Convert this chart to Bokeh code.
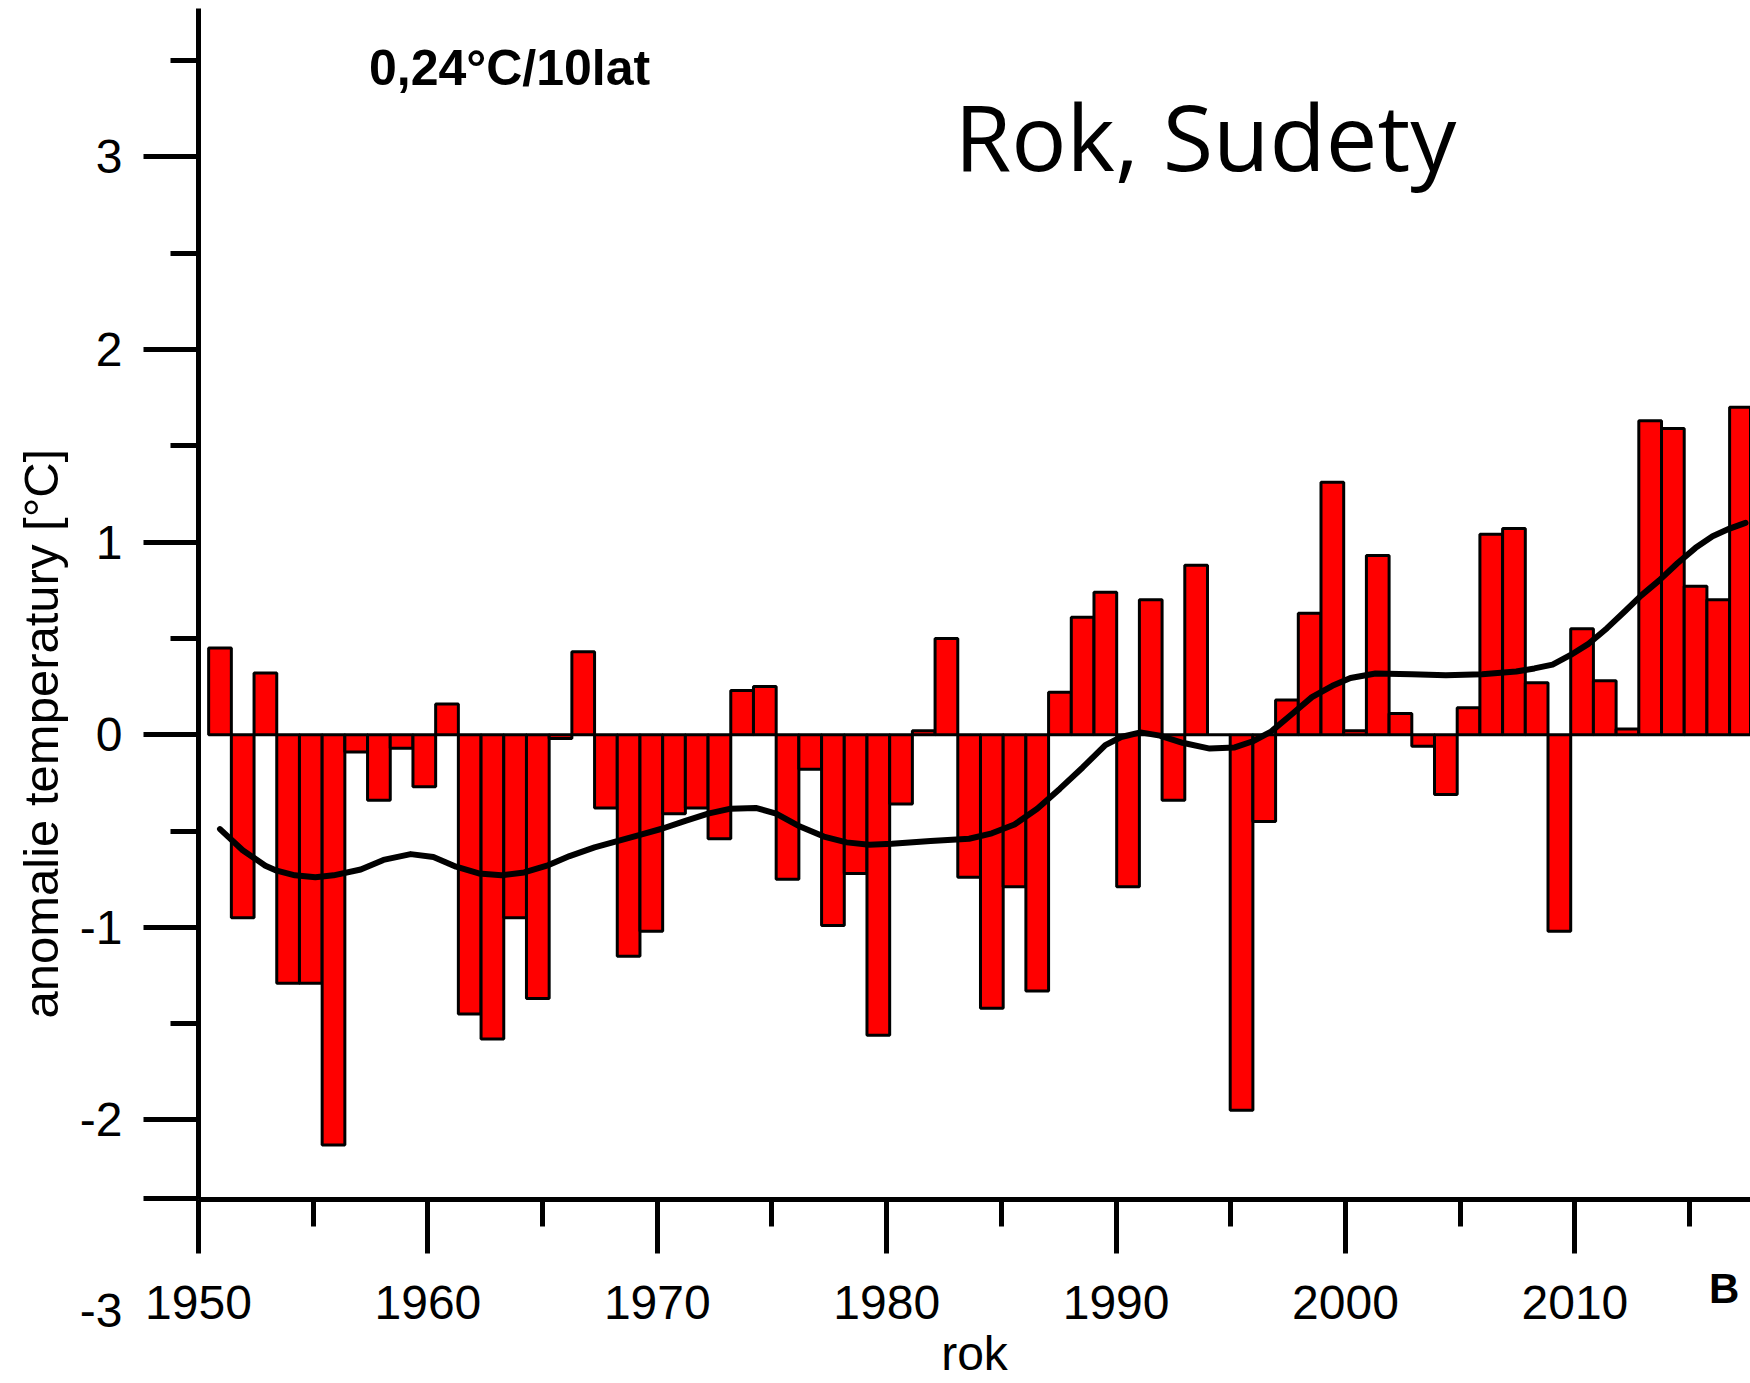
import json
from bokeh.plotting import figure
from bokeh.models import (Range1d, FixedTicker, CustomJSTickFormatter, Label, Title,
                          LinearAxis)
from bokeh.embed import file_html
from bokeh.resources import INLINE

# ---------------- data ----------------
years = list(range(1951, 2019))
anomaly = [
    0.45, -0.95, 0.32, -1.29, -1.29, -2.13, -0.09, -0.34, -0.07, -0.27,   # 1951-1960
    0.16, -1.45, -1.58, -0.95, -1.37, -0.02, 0.43, -0.38, -1.15, -1.02,   # 1961-1970
    -0.41, -0.38, -0.54, 0.23, 0.25, -0.75, -0.18, -0.99, -0.72, -1.56,   # 1971-1980
    -0.36, 0.02, 0.50, -0.74, -1.42, -0.79, -1.33, 0.22, 0.61, 0.74,      # 1981-1990
    -0.79, 0.70, -0.34, 0.88, 0.00, -1.95, -0.45, 0.18, 0.63, 1.31,       # 1991-2000
    0.02, 0.93, 0.11, -0.06, -0.31, 0.14, 1.04, 1.07, 0.27, -1.02,        # 2001-2010
    0.55, 0.28, 0.03, 1.63, 1.59, 0.77, 0.70, 1.70,                       # 2011-2018
]

smooth_year = [
    1951.0, 1952.0, 1953.0, 1953.5, 1954.3, 1955.2, 1956.0, 1957.2, 1958.2, 1959.4,
    1960.4, 1961.4, 1962.4, 1963.4, 1964.4, 1965.4, 1966.4, 1967.5, 1968.5, 1969.5,
    1970.5, 1971.5, 1972.5, 1973.5, 1974.6, 1975.5, 1976.55, 1977.6, 1978.6, 1979.6,
    1980.6, 1982.3, 1984.0, 1985.0, 1986.0, 1987.0, 1988.0, 1989.0, 1990.0, 1990.7,
    1991.55, 1992.4, 1993.4, 1994.6, 1995.7, 1996.5, 1997.3, 1998.2, 1999.1, 2000.0,
    2000.8, 2001.9, 2003.5, 2005.0, 2006.6, 2008.1, 2008.9, 2009.7, 2010.5, 2011.3,
    2012.1, 2012.9, 2013.6, 2014.4, 2015.2, 2016.0, 2016.75, 2017.5, 2018.2,
]
smooth_value = [
    -0.49, -0.60, -0.68, -0.706, -0.73, -0.74, -0.73, -0.70, -0.65, -0.62,
    -0.635, -0.685, -0.72, -0.73, -0.715, -0.68, -0.63, -0.585, -0.553, -0.52,
    -0.487, -0.447, -0.41, -0.384, -0.38, -0.41, -0.477, -0.529, -0.559, -0.571,
    -0.566, -0.552, -0.54, -0.512, -0.466, -0.384, -0.28, -0.17, -0.054, -0.012,
    0.012, -0.005, -0.042, -0.072, -0.066, -0.034, 0.016, 0.105, 0.195, 0.254,
    0.294, 0.318, 0.314, 0.308, 0.314, 0.328, 0.344, 0.364, 0.414, 0.473,
    0.553, 0.642, 0.722, 0.801, 0.89, 0.97, 1.03, 1.07, 1.10,
]

x_major_ticks = [1950, 1960, 1970, 1980, 1990, 2000, 2010]
x_minor_ticks = [1955, 1965, 1975, 1985, 1995, 2005, 2015]
y_major_ticks = [-2, -1, 0, 1, 2, 3]
y_minor_ticks = [-1.5, -0.5, 0.5, 1.5, 2.5, 3.5]
extra_y_tick = -3          # the "-3" label that sits below the x axis

title_text = "Rok, Sudety"
trend_text = "0,24°C/10lat"
y_label_text = "anomalie temperatury [°C]"
x_label_text = "rok"
corner_text = "B"
corner_text_x = [2017.48]

# ---------------- figure ----------------
y_start, y_end = -2.413, 3.77
p = figure(
    width=1750, height=1383,
    output_backend="svg", toolbar_location=None,
    x_range=Range1d(1950, 2017.655), y_range=Range1d(y_start, y_end),
    min_border=0,
    min_border_left=198, min_border_right=0, min_border_top=8, min_border_bottom=184,
)
p.extra_x_ranges = {"bars": Range1d(1950.053, 2018.42)}
p.outline_line_color = None
p.grid.visible = False
p.background_fill_color = "white"
p.border_fill_color = "white"

p.vbar(x=years, width=1, top=anomaly, bottom=0, x_range_name="bars",
       fill_color="#ff0000", line_color="black", line_width=3)
p.line(smooth_year, smooth_value, x_range_name="bars",
       line_color="black", line_width=6, line_join="round", line_cap="round")

TICK_FONT = "Liberation Sans"

xa = p.xaxis[0]
xa.ticker = FixedTicker(ticks=x_major_ticks, minor_ticks=x_minor_ticks)
xa.axis_line_width = 5
xa.major_tick_line_width = 5
xa.minor_tick_line_width = 5
xa.major_tick_in = 0
xa.major_tick_out = 54
xa.minor_tick_in = 0
xa.minor_tick_out = 27
xa.major_label_text_font = TICK_FONT
xa.major_label_text_font_size = "48px"
xa.major_label_text_color = "black"
xa.major_label_standoff = 32
xa.axis_label = x_label_text
xa.axis_label_text_font = TICK_FONT
xa.axis_label_text_font_size = "48px"
xa.axis_label_text_font_style = "normal"
xa.axis_label_text_color = "black"
xa.axis_label_standoff = 5

# y axis: the bottom tick extends the x axis line to the left; its label
# carries the "-3" that the reference prints below the x axis
floor_label = "\u00a0\n" * 4 + str(extra_y_tick)
ya = p.yaxis[0]
ya.ticker = FixedTicker(ticks=[y_start + 0.003] + y_major_ticks, minor_ticks=y_minor_ticks)
ya.formatter = CustomJSTickFormatter(
    code=f"if (tick < {y_start + 0.2}) {{ return {json.dumps(floor_label)}; }} return tick.toFixed(0);")
ya.axis_line_width = 5
ya.major_tick_line_width = 5
ya.minor_tick_line_width = 5
ya.major_tick_in = 0
ya.major_tick_out = 55
ya.minor_tick_in = 0
ya.minor_tick_out = 28
ya.major_label_text_font = TICK_FONT
ya.major_label_text_font_size = "48px"
ya.major_label_text_color = "black"
ya.major_label_text_line_height = 1.053
ya.major_label_standoff = 21

# y axis title in the left side panel
p.add_layout(Title(text=y_label_text, align="left", offset=181,
                   text_font=TICK_FONT, text_font_size="49px", text_font_style="normal",
                   text_color="black", standoff=18), "left")

# cut-off bold "B" at the lower right, drawn by an extra (invisible) axis
corner_axis = LinearAxis(
    ticker=FixedTicker(ticks=corner_text_x, minor_ticks=[]),
    formatter=CustomJSTickFormatter(code=f"return {json.dumps(corner_text)};"),
    axis_line_color=None, major_tick_line_color=None, minor_tick_line_color=None,
    major_tick_in=0, major_tick_out=0, minor_tick_in=0, minor_tick_out=0,
    major_label_standoff=-118,
    major_label_text_font=TICK_FONT, major_label_text_font_size="42px",
    major_label_text_font_style="bold", major_label_text_color="black",
)
p.add_layout(corner_axis, "below")

# texts inside the plot
p.add_layout(Label(x=1982.955, y=3.109, text=title_text,
                   text_font="Open Sans", text_font_size="92px", text_color="black",
                   text_align="left", text_baseline="alphabetic"))
p.add_layout(Label(x=1957.43, y=3.462, text=trend_text,
                   text_font=TICK_FONT, text_font_size="50px", text_font_style="bold",
                   text_color="black", text_align="left", text_baseline="alphabetic"))

open("out.html", "w").write(file_html(p, INLINE))
